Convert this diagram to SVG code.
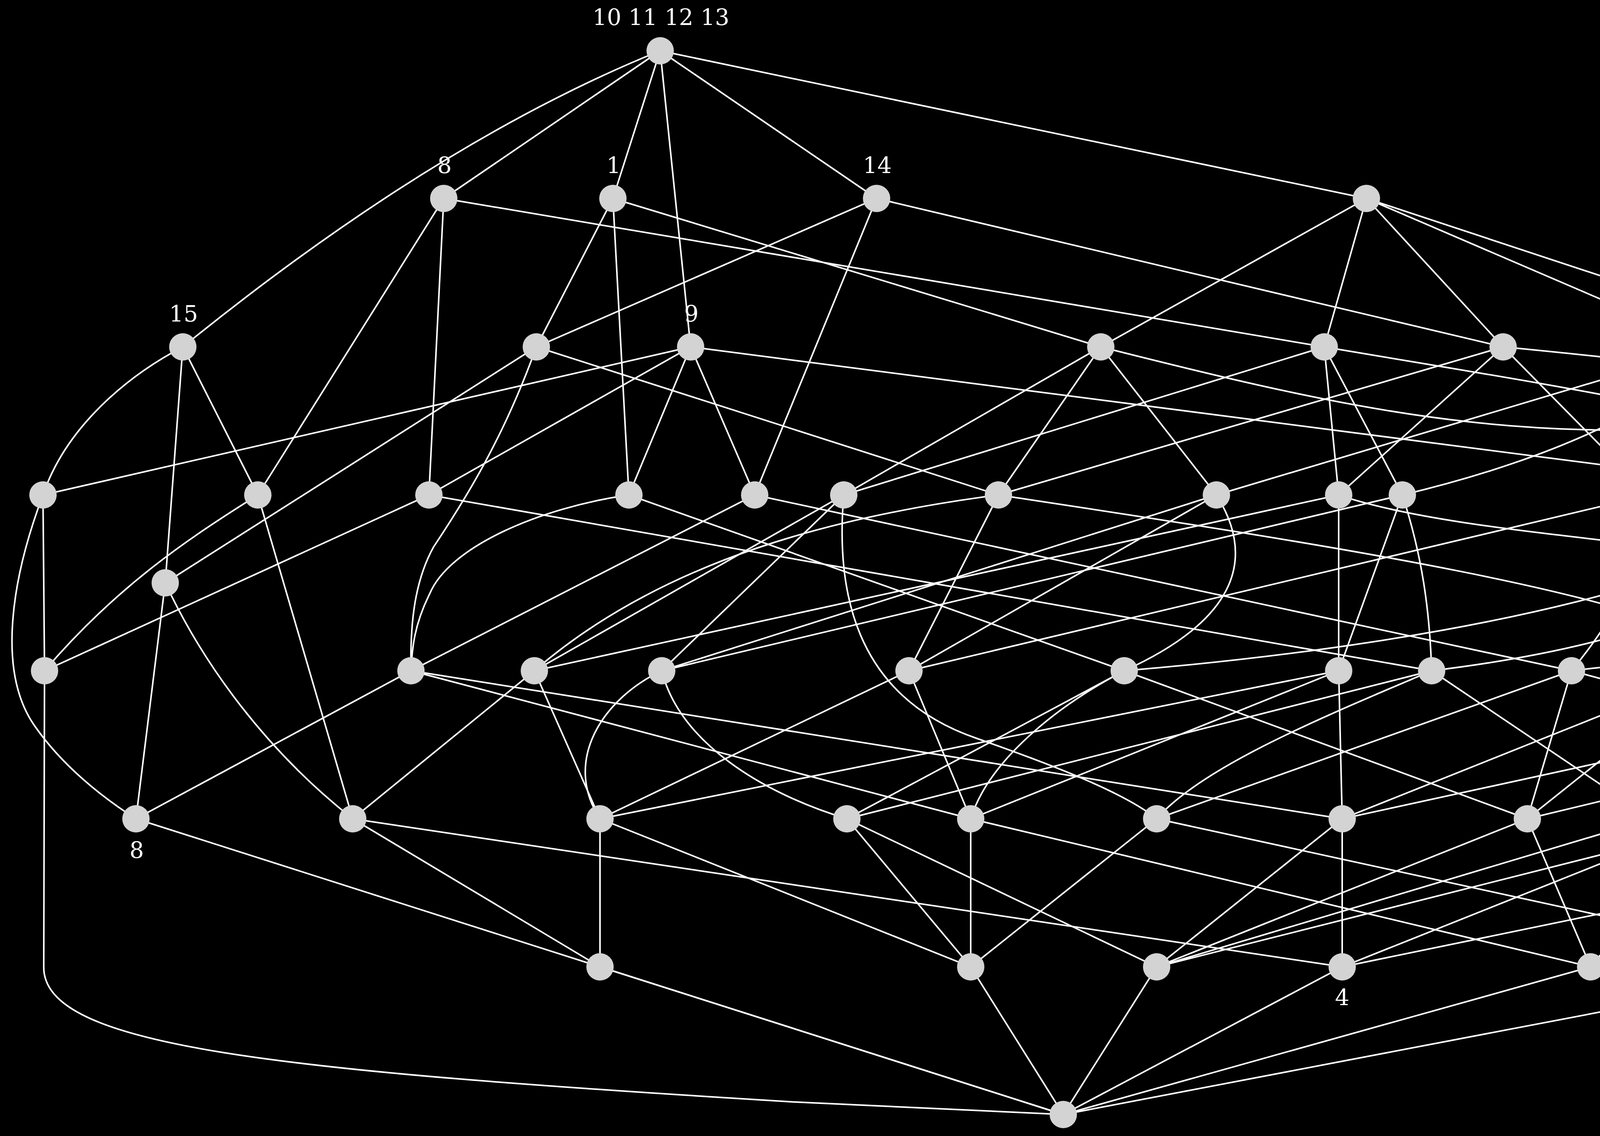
<svg xmlns="http://www.w3.org/2000/svg" width="6108" height="2908" viewBox="0 0 6108 2908">
<style>
.e{fill:none;stroke:#ffffff;stroke-width:4}
.n{fill:#d3d3d3;stroke:none}
.l{fill:#ffffff;font-family:"DejaVu Serif","Liberation Serif",serif;font-size:58px;text-anchor:middle}
</style>
<rect width="6108" height="2908" fill="#000000"/>
<g id="edges" class="e">
<path d="M1690,130 Q1120,360 468,888"/>
<path d="M1690,130 L1136,508"/>
<path d="M1690,130 L1569,508"/>
<path d="M1690,130 L1768,888"/>
<path d="M1690,130 L2244,508"/>
<path d="M1690,130 L3498,508"/>
<path d="M1136,508 L3390,888"/>
<path d="M1136,508 L660,1267"/>
<path d="M1136,508 L1098,1267"/>
<path d="M1569,508 L1373,888"/>
<path d="M1569,508 L1610,1267"/>
<path d="M1569,508 L2818,888"/>
<path d="M2244,508 L1373,888"/>
<path d="M2244,508 L1932,1267"/>
<path d="M2244,508 L3848,888"/>
<path d="M3498,508 L2818,888"/>
<path d="M3498,508 L3390,888"/>
<path d="M3498,508 L3848,888"/>
<path d="M3498,508 L4382,888"/>
<path d="M3498,508 L5796,1267"/>
<path d="M468,888 C330,960 170,1090 110,1267"/>
<path d="M468,888 L660,1267"/>
<path d="M468,888 L423,1492"/>
<path d="M1373,888 L423,1492"/>
<path d="M1373,888 C1290,1120 1190,1280 1110,1400 C1060,1490 1050,1600 1052,1717"/>
<path d="M1373,888 L2556,1267"/>
<path d="M1768,888 L110,1267"/>
<path d="M1768,888 L1098,1267"/>
<path d="M1768,888 L1610,1267"/>
<path d="M1768,888 L1932,1267"/>
<path d="M1768,888 L4697,1267"/>
<path d="M2818,888 L2160,1267"/>
<path d="M2818,888 L2556,1267"/>
<path d="M2818,888 L3114,1267"/>
<path d="M2818,888 C3300,1010 3650,1090 4060,1100 C4450,1110 4800,1170 4850,1380 C4880,1560 4600,1680 4385,1717"/>
<path d="M3390,888 L2160,1267"/>
<path d="M3390,888 L3427,1267"/>
<path d="M3390,888 L3590,1267"/>
<path d="M3390,888 C3900,975 4550,1070 4800,1200 C5050,1340 5140,1550 5177,1717"/>
<path d="M3848,888 L2556,1267"/>
<path d="M3848,888 L3427,1267"/>
<path d="M3848,888 L4222,1267"/>
<path d="M3848,888 C4700,970 5600,1100 5880,1260 C6080,1400 6090,1560 5965,1717"/>
<path d="M4382,888 L3114,1267"/>
<path d="M4382,888 C4300,1020 4000,1170 3590,1267"/>
<path d="M4382,888 C4470,1010 4420,1150 4222,1267"/>
<path d="M4382,888 L4697,1267"/>
<path d="M110,1267 L114,1717"/>
<path d="M110,1267 C30,1480 -10,1720 90,1860 C160,1960 260,2040 348,2096"/>
<path d="M660,1267 C480,1380 300,1500 114,1717"/>
<path d="M660,1267 L903,2096"/>
<path d="M1098,1267 L114,1717"/>
<path d="M1098,1267 L3665,1717"/>
<path d="M1610,1267 C1380,1300 1150,1400 1100,1520 C1060,1600 1055,1660 1052,1717"/>
<path d="M1610,1267 L2878,1717"/>
<path d="M1932,1267 L1052,1717"/>
<path d="M1932,1267 L4023,1717"/>
<path d="M2160,1267 L1368,1717"/>
<path d="M2160,1267 L1694,1717"/>
<path d="M2160,1267 C2140,1500 2180,1780 2500,1890 C2700,1960 2880,2030 2961,2096"/>
<path d="M2556,1267 C2150,1320 1700,1430 1368,1717"/>
<path d="M2556,1267 L2327,1717"/>
<path d="M2556,1267 C3300,1380 4250,1520 4430,1680 C4520,1800 4480,1990 4385,2096"/>
<path d="M3114,1267 L1694,1717"/>
<path d="M3114,1267 L2327,1717"/>
<path d="M3114,1267 C3210,1420 3180,1580 2878,1717"/>
<path d="M3427,1267 L1368,1717"/>
<path d="M3427,1267 L3427,1717"/>
<path d="M3427,1267 C3700,1360 4200,1380 4700,1460 C5100,1530 5310,1680 5300,1900 C5295,1990 5290,2040 5277,2096"/>
<path d="M3590,1267 L1694,1717"/>
<path d="M3590,1267 L3427,1717"/>
<path d="M3590,1267 C3640,1420 3660,1560 3665,1717"/>
<path d="M4222,1267 L2327,1717"/>
<path d="M4222,1267 C4215,1450 4120,1600 4023,1717"/>
<path d="M4697,1267 C4450,1470 3800,1640 2878,1717"/>
<path d="M4697,1267 C4600,1470 4300,1640 3665,1717"/>
<path d="M4697,1267 C4870,1400 4830,1580 4500,1650 C4300,1690 4120,1705 4023,1717"/>
<path d="M4697,1267 L5485,1717"/>
<path d="M5796,1267 C5400,1500 4900,1680 4385,1717"/>
<path d="M5796,1267 C5780,1500 5600,1670 5177,1717"/>
<path d="M5796,1267 C5900,1450 5880,1640 5485,1717"/>
<path d="M5796,1267 C6040,1430 6040,1600 5965,1717"/>
<path d="M423,1492 L348,2096"/>
<path d="M423,1492 C520,1700 680,1920 903,2096"/>
<path d="M114,1717 L112,2475 C110,2680 700,2740 2036,2821 L2722,2853"/>
<path d="M1052,1717 L348,2096"/>
<path d="M1052,1717 L2485,2096"/>
<path d="M1052,1717 L3436,2096"/>
<path d="M1368,1717 L903,2096"/>
<path d="M1368,1717 L1536,2096"/>
<path d="M1694,1717 C1540,1790 1440,1950 1536,2096"/>
<path d="M1694,1717 C1740,1900 1950,2030 2168,2096"/>
<path d="M2327,1717 L1536,2096"/>
<path d="M2327,1717 L2485,2096"/>
<path d="M2878,1717 L2168,2096"/>
<path d="M2878,1717 C2700,1810 2530,1950 2485,2096"/>
<path d="M2878,1717 L3910,2096"/>
<path d="M3427,1717 L1536,2096"/>
<path d="M3427,1717 L2485,2096"/>
<path d="M3427,1717 L3436,2096"/>
<path d="M3665,1717 L2168,2096"/>
<path d="M3665,1717 C3400,1830 3080,1960 2961,2096"/>
<path d="M3665,1717 L4228,2096"/>
<path d="M4023,1717 L2961,2096"/>
<path d="M4023,1717 L3910,2096"/>
<path d="M4023,1717 L5428,2096"/>
<path d="M4385,1717 L3436,2096"/>
<path d="M4385,1717 L3910,2096"/>
<path d="M4385,1717 L4385,2096"/>
<path d="M5177,1717 L3436,2096"/>
<path d="M5177,1717 L4228,2096"/>
<path d="M5177,1717 L5277,2096"/>
<path d="M5485,1717 L3910,2096"/>
<path d="M5485,1717 L4385,2096"/>
<path d="M5485,1717 C5570,1840 5540,1990 5428,2096"/>
<path d="M5965,1717 L5277,2096"/>
<path d="M5965,1717 L5428,2096"/>
<path d="M5965,1717 L2961,2475"/>
<path d="M348,2096 L2722,2853"/>
<path d="M903,2096 L1536,2475"/>
<path d="M903,2096 L3436,2475"/>
<path d="M1536,2096 L1536,2475"/>
<path d="M1536,2096 L2485,2475"/>
<path d="M2168,2096 L2485,2475"/>
<path d="M2168,2096 L2961,2475"/>
<path d="M2485,2096 L2485,2475"/>
<path d="M2485,2096 L4072,2475"/>
<path d="M2961,2096 L2485,2475"/>
<path d="M2961,2096 L4702,2475"/>
<path d="M3436,2096 L2961,2475"/>
<path d="M3436,2096 L3436,2475"/>
<path d="M3910,2096 L2961,2475"/>
<path d="M3910,2096 L4072,2475"/>
<path d="M4228,2096 L2961,2475"/>
<path d="M4228,2096 C4470,2200 4660,2300 4702,2475"/>
<path d="M4385,2096 L3436,2475"/>
<path d="M4385,2096 L4072,2475"/>
<path d="M5277,2096 L3436,2475"/>
<path d="M5277,2096 L4702,2475"/>
<path d="M5428,2096 L4072,2475"/>
<path d="M5428,2096 L4702,2475"/>
<path d="M1536,2475 L2722,2853"/>
<path d="M2485,2475 L2722,2853"/>
<path d="M2961,2475 L2722,2853"/>
<path d="M3436,2475 L2722,2853"/>
<path d="M4072,2475 L2722,2853"/>
<path d="M4702,2475 L2722,2853"/>
</g>
<g id="nodes">
<g id="T"><ellipse class="n" cx="1690" cy="130" rx="35" ry="35"/><text class="l" x="1692" y="64">10 11 12 13</text></g>
<g id="A1"><ellipse class="n" cx="1136" cy="508" rx="35" ry="35"/><text class="l" x="1138" y="443">8</text></g>
<g id="A2"><ellipse class="n" cx="1569" cy="508" rx="35" ry="35"/><text class="l" x="1571" y="443">1</text></g>
<g id="A3"><ellipse class="n" cx="2244" cy="508" rx="35" ry="35"/><text class="l" x="2246" y="443">14</text></g>
<g id="A4"><ellipse class="n" cx="3498" cy="508" rx="35" ry="35"/></g>
<g id="B1"><ellipse class="n" cx="468" cy="888" rx="35" ry="35"/><text class="l" x="470" y="823">15</text></g>
<g id="B2"><ellipse class="n" cx="1373" cy="888" rx="35" ry="35"/></g>
<g id="B3"><ellipse class="n" cx="1768" cy="888" rx="35" ry="35"/><text class="l" x="1770" y="823">9</text></g>
<g id="B4"><ellipse class="n" cx="2818" cy="888" rx="35" ry="35"/></g>
<g id="B5"><ellipse class="n" cx="3390" cy="888" rx="35" ry="35"/></g>
<g id="B6"><ellipse class="n" cx="3848" cy="888" rx="35" ry="35"/></g>
<g id="B7"><ellipse class="n" cx="4382" cy="888" rx="35" ry="35"/><text class="l" x="4384" y="823">4</text></g>
<g id="C1"><ellipse class="n" cx="110" cy="1267" rx="35" ry="35"/></g>
<g id="C2"><ellipse class="n" cx="660" cy="1267" rx="35" ry="35"/></g>
<g id="C3"><ellipse class="n" cx="1098" cy="1267" rx="35" ry="35"/></g>
<g id="C4"><ellipse class="n" cx="1610" cy="1267" rx="35" ry="35"/></g>
<g id="C5"><ellipse class="n" cx="1932" cy="1267" rx="35" ry="35"/></g>
<g id="C6"><ellipse class="n" cx="2160" cy="1267" rx="35" ry="35"/></g>
<g id="C7"><ellipse class="n" cx="2556" cy="1267" rx="35" ry="35"/></g>
<g id="C8"><ellipse class="n" cx="3114" cy="1267" rx="35" ry="35"/></g>
<g id="C9"><ellipse class="n" cx="3427" cy="1267" rx="35" ry="35"/></g>
<g id="C10"><ellipse class="n" cx="3590" cy="1267" rx="35" ry="35"/></g>
<g id="C11"><ellipse class="n" cx="4222" cy="1267" rx="35" ry="35"/></g>
<g id="C12"><ellipse class="n" cx="4697" cy="1267" rx="35" ry="35"/></g>
<g id="C13"><ellipse class="n" cx="5796" cy="1267" rx="35" ry="35"/></g>
<g id="D0"><ellipse class="n" cx="423" cy="1492" rx="35" ry="35"/></g>
<g id="E1"><ellipse class="n" cx="114" cy="1717" rx="35" ry="35"/></g>
<g id="E2"><ellipse class="n" cx="1052" cy="1717" rx="35" ry="35"/></g>
<g id="E3"><ellipse class="n" cx="1368" cy="1717" rx="35" ry="35"/></g>
<g id="E4"><ellipse class="n" cx="1694" cy="1717" rx="35" ry="35"/></g>
<g id="E5"><ellipse class="n" cx="2327" cy="1717" rx="35" ry="35"/></g>
<g id="E6"><ellipse class="n" cx="2878" cy="1717" rx="35" ry="35"/></g>
<g id="E7"><ellipse class="n" cx="3427" cy="1717" rx="35" ry="35"/></g>
<g id="E8"><ellipse class="n" cx="3665" cy="1717" rx="35" ry="35"/></g>
<g id="E9"><ellipse class="n" cx="4023" cy="1717" rx="35" ry="35"/></g>
<g id="E10"><ellipse class="n" cx="4385" cy="1717" rx="35" ry="35"/></g>
<g id="E11"><ellipse class="n" cx="5177" cy="1717" rx="35" ry="35"/></g>
<g id="E12"><ellipse class="n" cx="5485" cy="1717" rx="35" ry="35"/></g>
<g id="E13"><ellipse class="n" cx="5965" cy="1717" rx="35" ry="35"/></g>
<g id="F1"><ellipse class="n" cx="348" cy="2096" rx="35" ry="35"/><text class="l" x="350" y="2196">8</text></g>
<g id="F2"><ellipse class="n" cx="903" cy="2096" rx="35" ry="35"/></g>
<g id="F3"><ellipse class="n" cx="1536" cy="2096" rx="35" ry="35"/></g>
<g id="F4"><ellipse class="n" cx="2168" cy="2096" rx="35" ry="35"/></g>
<g id="F5"><ellipse class="n" cx="2485" cy="2096" rx="35" ry="35"/></g>
<g id="F6"><ellipse class="n" cx="2961" cy="2096" rx="35" ry="35"/></g>
<g id="F7"><ellipse class="n" cx="3436" cy="2096" rx="35" ry="35"/></g>
<g id="F8"><ellipse class="n" cx="3910" cy="2096" rx="35" ry="35"/></g>
<g id="F9"><ellipse class="n" cx="4228" cy="2096" rx="35" ry="35"/></g>
<g id="F10"><ellipse class="n" cx="4385" cy="2096" rx="35" ry="35"/></g>
<g id="F11"><ellipse class="n" cx="5277" cy="2096" rx="35" ry="35"/></g>
<g id="F12"><ellipse class="n" cx="5428" cy="2096" rx="35" ry="35"/></g>
<g id="G1"><ellipse class="n" cx="1536" cy="2475" rx="35" ry="35"/></g>
<g id="G2"><ellipse class="n" cx="2485" cy="2475" rx="35" ry="35"/></g>
<g id="G3"><ellipse class="n" cx="2961" cy="2475" rx="35" ry="35"/></g>
<g id="G4"><ellipse class="n" cx="3436" cy="2475" rx="35" ry="35"/><text class="l" x="3436" y="2573">4</text></g>
<g id="G5"><ellipse class="n" cx="4072" cy="2475" rx="35" ry="35"/></g>
<g id="G6"><ellipse class="n" cx="4702" cy="2475" rx="35" ry="35"/><text class="l" x="4702" y="2573">1</text></g>
<g id="Z"><ellipse class="n" cx="2722" cy="2853" rx="35" ry="35"/></g>
</g>
</svg>
